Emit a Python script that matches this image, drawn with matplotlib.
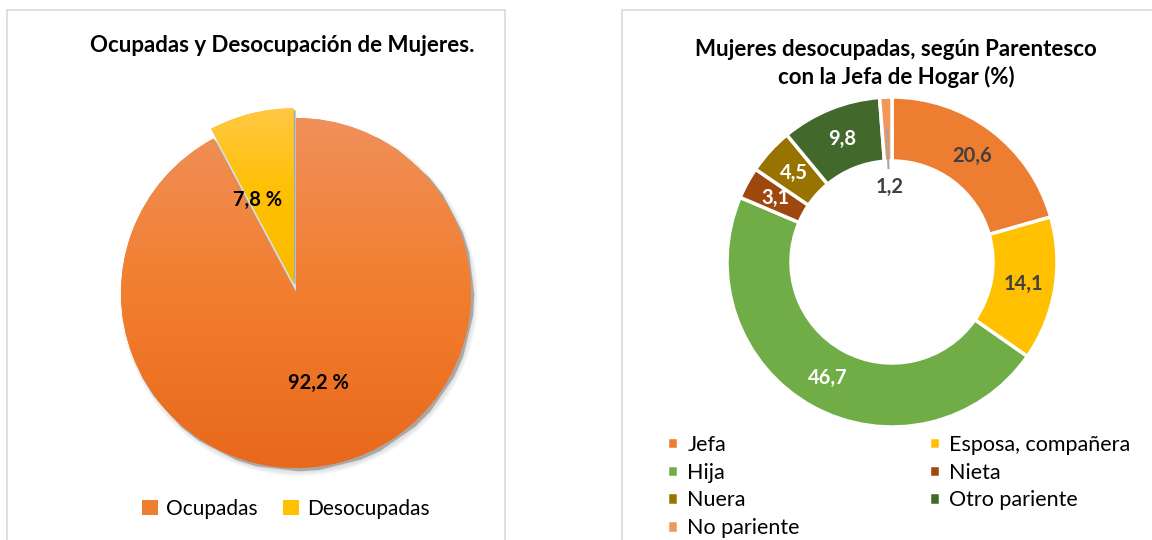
import numpy as np
import matplotlib
matplotlib.use('Agg')
import matplotlib.pyplot as plt
from matplotlib.patches import Rectangle, Circle
from matplotlib.colors import LinearSegmentedColormap

plt.rcParams['font.family'] = ['Lato', 'DejaVu Sans']

# datos
ocup_labels = ['Ocupadas', 'Desocupadas']
ocup_values = [92.2, 7.8]
ocup_text = ['92,2 %', '7,8 %']

par_labels = ['Jefa', 'Esposa, compañera', 'Hija', 'Nieta', 'Nuera',
              'Otro pariente', 'No pariente']
par_values = [20.6, 14.1, 46.7, 3.1, 4.5, 9.8, 1.2]
par_text = ['20,6', '14,1', '46,7', '3,1', '4,5', '9,8', '1,2']
par_colors = ['#ED7D31', '#FFC000', '#70AD47', '#9E480E', '#997300',
              '#43682B', '#F1975A']
par_txtcol = ['#404040', '#404040', 'white', 'white', 'white', 'white', '#404040']

W, H = 1152, 540
fig = plt.figure(figsize=(W / 100, H / 100), dpi=100)
ax = fig.add_axes([0, 0, 1, 1])

# marcos de los paneles
ax.add_patch(Rectangle((7, -5), 498, 535, fill=False, ec='#D9D9D9', lw=1.2))
ax.add_patch(Rectangle((622, -5), 600, 535, fill=False, ec='#D9D9D9', lw=1.2))

# ---- grafico 1: torta
c1 = (296, H - 293)
r1 = 175
for k in range(6):
    ax.add_patch(Circle((c1[0] + 3, c1[1] - 4), r1 + 4 - k * 0.8,
                        color='#7f7f7f', alpha=0.04, lw=0, zorder=1))

wedges1, _ = ax.pie(ocup_values, center=c1, radius=r1, startangle=90,
                    counterclock=False, explode=[0, 10],
                    colors=['#F07E30', '#FFC000'],
                    wedgeprops=dict(lw=0), frame=True)

grads = [LinearSegmentedColormap.from_list('o', ['#F0905A', '#F27E2E', '#E8681C']),
         LinearSegmentedColormap.from_list('y', ['#FFC845', '#FFC000', '#FBBA00'])]
grad = np.linspace(0, 1, 256).reshape(-1, 1)
for w, cm in zip(wedges1, grads):
    w.set_zorder(2)
    # sombra del borde
    sh = plt.Polygon(w.get_path().vertices + [2, -2], closed=True,
                     color='#a8a8a8', lw=0, zorder=1.5)
    ax.add_patch(sh)
    bb = w.get_path().get_extents()
    im = ax.imshow(grad, cmap=cm, aspect='auto', origin='upper',
                   extent=[bb.x0, bb.x1, bb.y0, bb.y1], zorder=3,
                   interpolation='bicubic')
    im.set_clip_path(w)

ax.text(318, H - 383, ocup_text[0], ha='center', va='center',
        fontsize=14.5, fontweight='bold', color='black', zorder=5)
ax.text(258, H - 200, ocup_text[1], ha='center', va='center',
        fontsize=14.5, fontweight='bold', color='black', zorder=5)

ax.text(282, H - 45, 'Ocupadas y Desocupación de Mujeres.', ha='center',
        va='center', fontsize=16, fontweight='bold', color='black')

leg1 = ax.legend(wedges1, ocup_labels, ncol=2, frameon=False,
                 loc='center', bbox_to_anchor=(286 / W, 1 - 509 / H),
                 fontsize=15, handlelength=0.75, handleheight=0.75,
                 handletextpad=0.4, columnspacing=1.2)
ax.add_artist(leg1)

# ---- grafico 2: dona
c2 = (892, H - 262)
r2 = 165
ring = 64
wedges2, _ = ax.pie(par_values, center=c2, radius=r2, startangle=90,
                    counterclock=False, colors=par_colors,
                    wedgeprops=dict(width=ring, edgecolor='white', lw=2.5),
                    frame=True)
for i, w in enumerate(wedges2):
    w.set_zorder(2)
    ang = np.deg2rad((w.theta1 + w.theta2) / 2)
    if i == 6:
        rr = r2 - ring - 26
        ax.plot([c2[0] + (r2 - ring / 2) * np.cos(ang), c2[0] + (r2 - ring - 7) * np.cos(ang)],
                [c2[1] + (r2 - ring / 2) * np.sin(ang), c2[1] + (r2 - ring - 7) * np.sin(ang)],
                color='#A6A6A6', lw=1.5, zorder=4)
    else:
        rr = r2 - ring / 2
    ax.text(c2[0] + rr * np.cos(ang), c2[1] + rr * np.sin(ang), par_text[i],
            ha='center', va='center', fontsize=14.5, fontweight='bold',
            color=par_txtcol[i], zorder=5)

ax.text(896, H - 50, 'Mujeres desocupadas, según Parentesco',
        ha='center', va='center', fontsize=16, fontweight='bold', color='black')
ax.text(896, H - 77, 'con la Jefa de Hogar (%)',
        ha='center', va='center', fontsize=16, fontweight='bold', color='black')

order = [0, 2, 4, 6, 1, 3, 5]
leg2 = ax.legend([wedges2[i] for i in order], [par_labels[i] for i in order],
                 ncol=2, frameon=False, loc='upper left',
                 bbox_to_anchor=(656 / W, 1 - 424 / H), fontsize=15.5,
                 handlelength=0.5, handleheight=0.5, handletextpad=0.45,
                 columnspacing=6.0, labelspacing=0.36, borderpad=0)

ax.set_xlim(0, W)
ax.set_ylim(0, H)
ax.set_aspect('equal')
ax.axis('off')

fig.savefig('out.png', dpi=100, facecolor='white')
